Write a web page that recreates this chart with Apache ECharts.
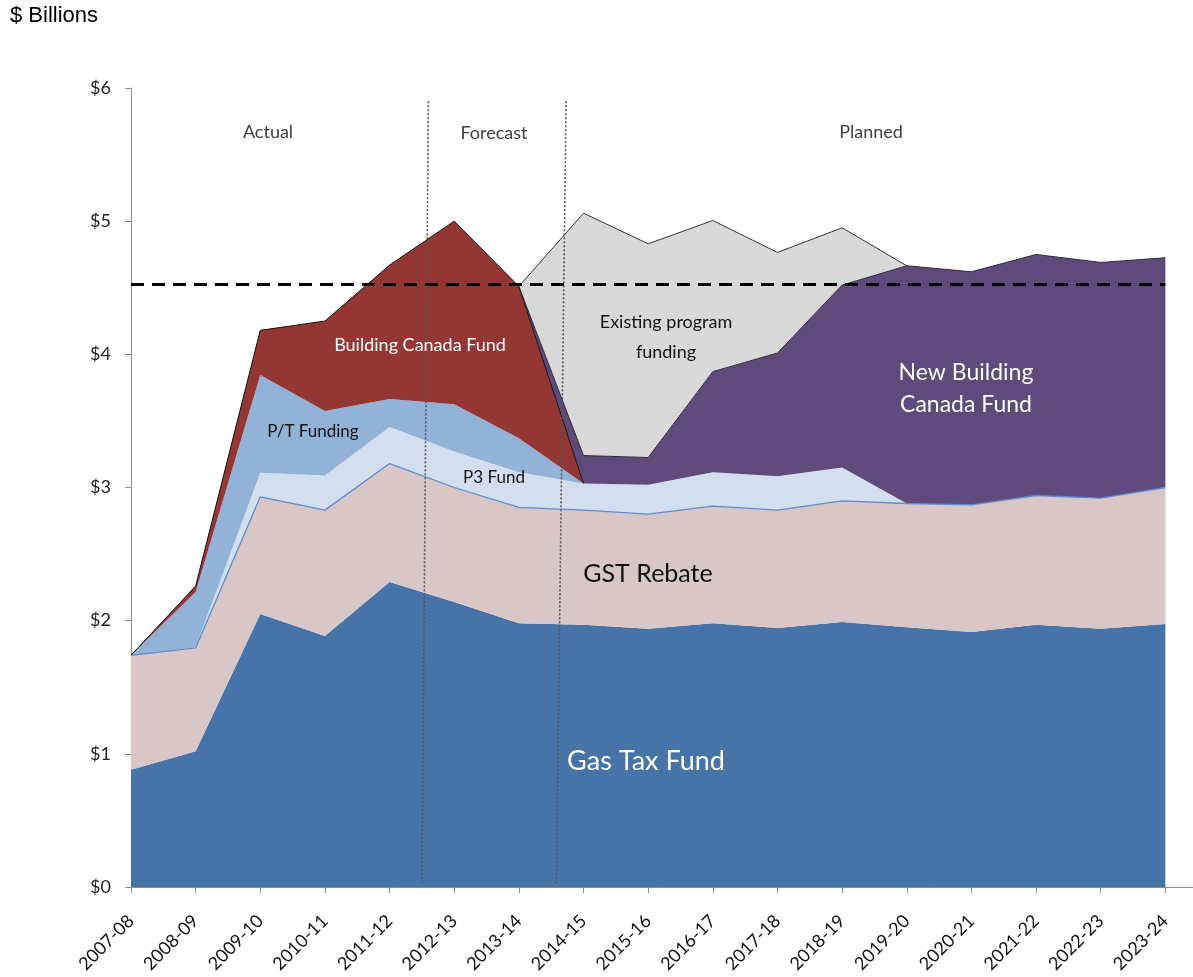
<!DOCTYPE html>
<html>
<head>
<meta charset="utf-8">
<script src="https://cdn.jsdelivr.net/npm/echarts@6/dist/echarts.min.js"></script>
<style>
  html, body { margin: 0; padding: 0; background: #fff; overflow: hidden; }
  #chart { width: 1193px; height: 977px; }
</style>
</head>
<body>
<div id="chart"></div>
<script>
// fiscal years on the x axis
const years = ['2007-08','2008-09','2009-10','2010-11','2011-12','2012-13','2013-14','2014-15','2015-16',
  '2016-17','2017-18','2018-19','2019-20','2020-21','2021-22','2022-23','2023-24'];

// $ billions, stacked bottom to top
const gasTax   = [0.88, 1.02, 2.05, 1.885, 2.29, 2.14, 1.98, 1.97, 1.94, 1.98, 1.945, 1.99, 1.95, 1.915, 1.97, 1.94, 1.975];
const gstRebate = [0.86, 0.775, 0.88, 0.945, 0.89, 0.86, 0.87, 0.86, 0.86, 0.88, 0.885, 0.91, 0.93, 0.955, 0.97, 0.98, 1.025];
const p3Fund   = [0, 0.005, 0.18, 0.26, 0.275, 0.27, 0.265, 0.20, 0.22, 0.255, 0.255, 0.25, 0, 0, 0, 0, 0];
const ptFunding = [0, 0.415, 0.735, 0.485, 0.21, 0.355, 0.255, 0, 0, 0, 0, 0, 0, 0, 0, 0, 0];
const bcf      = [0, 0.045, 0.335, 0.675, 1.005, 1.375, 1.14, 0, null, null, null, null, null, null, null, null, null];
const newBcf   = [null, null, null, null, null, null, 0, 0.21, 0.205, 0.755, 0.925, 1.37, 1.785, 1.75, 1.81, 1.77, 1.725];
const existing = [null, null, null, null, null, null, 0, 1.82, 1.605, 1.135, 0.755, 0.43, 0, null, null, null, null];

const yTicks = [0, 1, 2, 3, 4, 5, 6];
const threshold = 4.53;
// period separators (x in category index units, y in $B)
const dividers = [
  [[4.6, 5.9], [4.5, 0.03]],
  [[6.73, 5.9], [6.58, 0.02]]
];

const font = 'Lato, "Open Sans", sans-serif';
const chart = echarts.init(document.getElementById('chart'));

const area = (name, data, color, line) => ({
  name, type: 'line', stack: 'total', data, symbol: 'none', animation: false,
  lineStyle: line || { width: 0 },
  areaStyle: { color, opacity: 1 },
  itemStyle: { color },
  z: 2
});

chart.setOption({
  animation: false,
  // one spare empty category so the axis runs on past the last year, as in the source
  grid: { left: 131, top: 88, bottom: 90, width: 1099, containLabel: false, outerBoundsMode: 'none' },
  xAxis: [{
    type: 'category', boundaryGap: false, data: years.concat(['']),
    axisLine: { lineStyle: { color: '#8c8c8c', width: 1 } },
    axisTick: { alignWithLabel: true, length: 6, lineStyle: { color: '#8c8c8c' } },
    axisLabel: { rotate: 45, color: '#111', fontSize: 18, fontFamily: font, margin: 31, interval: 0 },
    splitLine: { show: false }
  }, {
    type: 'value', min: 0, max: 17, show: false
  }],
  yAxis: {
    type: 'value', min: 0, max: 6, interval: 1,
    axisLine: { show: true, lineStyle: { color: '#8c8c8c' } },
    axisTick: { show: true, length: 6, lineStyle: { color: '#8c8c8c' } },
    axisLabel: { color: '#222', fontSize: 18, fontFamily: font, margin: 20,
      formatter: v => yTicks.includes(v) ? '$' + v : '' },
    splitLine: { show: false }
  },
  series: [
    area('Gas Tax Fund', gasTax, '#4673a8'),
    area('GST Rebate', gstRebate, '#d9c6c6', { color: '#5b8bcf', width: 1.3 }),
    area('P3 Fund', p3Fund, '#d3dfef'),
    area('P/T Funding', ptFunding, '#93b2d8'),
    area('Building Canada Fund', bcf, '#943634', { color: '#111', width: 1 }),
    area('New Building Canada Fund', newBcf, '#5f4a7b', { color: '#2a2a3a', width: 1 }),
    area('Existing program funding', existing, '#d9d9d9', { color: '#333', width: 1 }),
    {
      type: 'line', xAxisIndex: 1, data: [], silent: true, z: 5,
      markLine: {
        silent: true, symbol: 'none', animation: false, label: { show: false },
        data: [
          [{ coord: [0, threshold], lineStyle: { type: [13, 8], color: '#000', width: 3 } }, { coord: [16, threshold] }],
          ...dividers.map(d => [
            { coord: d[0], lineStyle: { type: [2, 2], color: '#555', width: 1.6 } },
            { coord: d[1] }
          ])
        ]
      }
    }
  ],
  graphic: [
    { type: 'text', left: 10, top: 5, style: { text: '$ Billions', font: '22px "Liberation Sans", Arial, sans-serif', fill: '#000' } },
    { type: 'text', x: 268, y: 132, style: { text: 'Actual', font: '18px ' + font, fill: '#404040', align: 'center', verticalAlign: 'middle' } },
    { type: 'text', x: 494, y: 133, style: { text: 'Forecast', font: '18px ' + font, fill: '#404040', align: 'center', verticalAlign: 'middle' } },
    { type: 'text', x: 871, y: 132, style: { text: 'Planned', font: '18px ' + font, fill: '#404040', align: 'center', verticalAlign: 'middle' } },
    { type: 'text', x: 420, y: 345, z: 10, style: { text: 'Building Canada Fund', font: '18px ' + font, fill: '#fff', align: 'center', verticalAlign: 'middle' } },
    { type: 'text', x: 313, y: 432, z: 10, style: { text: 'P/T Funding', font: '17px ' + font, fill: '#111', align: 'center', verticalAlign: 'middle' } },
    { type: 'text', x: 494, y: 478, z: 10, style: { text: 'P3 Fund', font: '17px ' + font, fill: '#111', align: 'center', verticalAlign: 'middle' } },
    { type: 'text', x: 666, y: 337, z: 10, style: { text: 'Existing program\nfunding', font: '18px ' + font, lineHeight: 30, fill: '#111', align: 'center', verticalAlign: 'middle' } },
    { type: 'text', x: 966, y: 389, z: 10, style: { text: 'New Building\nCanada Fund', font: '23px ' + font, lineHeight: 32, fill: '#fff', align: 'center', verticalAlign: 'middle' } },
    { type: 'text', x: 648, y: 574, z: 10, style: { text: 'GST Rebate', font: '25px ' + font, fill: '#111', align: 'center', verticalAlign: 'middle' } },
    { type: 'text', x: 646, y: 761, z: 10, style: { text: 'Gas Tax Fund', font: '27px ' + font, fill: '#fff', align: 'center', verticalAlign: 'middle' } }
  ]
});
</script>
</body>
</html>
